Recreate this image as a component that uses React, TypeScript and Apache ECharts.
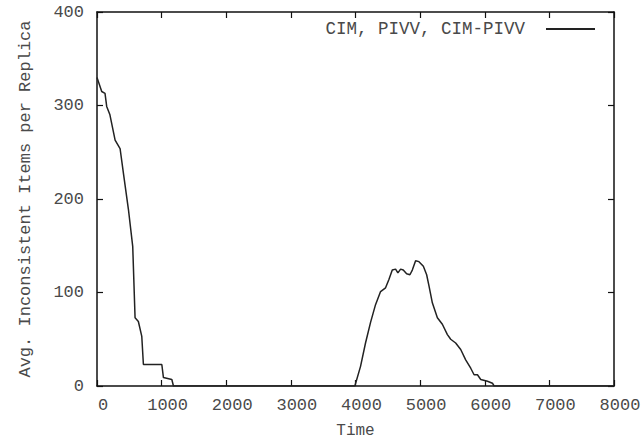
import React, { useEffect, useRef } from "react";
import * as echarts from "echarts";

const seriesName = "CIM, PIVV, CIM-PIVV";
const times = [
  0, 73, 124, 150, 200, 280, 357, 408, 486, 553, 589, 640, 693, 718, 1003, 1028, 1158, 1183, 3990,
  4078, 4155, 4233, 4310, 4388, 4465, 4517, 4569, 4620, 4656, 4698, 4739, 4791, 4842, 4879, 4930,
  4982, 5050, 5101, 5137, 5189, 5267, 5344, 5422, 5473, 5550, 5628, 5705, 5783, 5835, 5887, 5938,
  6042, 6119, 6145, 8000,
];
const values = [
  330, 315, 313, 299, 290, 263, 254, 228, 189, 149, 73, 69, 53, 23, 23, 9, 7, 0, 0,
  21, 46, 68, 87, 101, 105, 114, 124, 125, 121, 125, 124, 120, 119, 124, 134,
  133, 128, 119, 107, 89, 73, 66, 55, 50, 46, 39, 28, 19, 12, 12, 7,
  5, 3, 0, 0,
];
const xTicks = [0, 1000, 2000, 3000, 4000, 5000, 6000, 7000, 8000];
const yTicks = [0, 100, 200, 300, 400];

const FONT = "Liberation Mono";
const TXT = "#4a4a4a";

export default function App() {
  const ref = useRef<HTMLDivElement>(null);
  useEffect(() => {
    if (!ref.current) return;
    const chart = echarts.init(ref.current, undefined, { renderer: "svg" });
    const data = times.map((t, i) => [t, values[i]]);
    const axisLine = { show: true, onZero: false, lineStyle: { color: "#111", width: 1.5 } };
    const tick = { show: true, inside: true, length: 6, lineStyle: { color: "#111", width: 1.2 } };
    chart.setOption({
      animation: false,
      backgroundColor: "#fff",
      textStyle: { fontFamily: FONT },
      grid: { left: 97, right: 30, top: 12, bottom: 54, containLabel: false, outerBoundsMode: "none" },
      legend: {
        data: [{ name: seriesName, icon: "rect" }],
        right: 44,
        top: 15,
        align: "right",
        itemWidth: 49,
        itemHeight: 2,
        itemGap: 0,
        textStyle: { fontFamily: FONT, fontSize: 17.5, color: TXT, padding: [0, 16, 0, 0] },
      },
      xAxis: [
        {
          type: "value",
          min: xTicks[0],
          max: xTicks[xTicks.length - 1],
          interval: 1000,
          name: "Time",
          nameLocation: "middle",
          nameGap: 38,
          nameTextStyle: { fontFamily: FONT, fontSize: 16, lineHeight: 14, color: TXT },
          axisLine,
          axisTick: tick,
          splitLine: { show: false },
          axisLabel: {
            fontFamily: FONT,
            fontSize: 17,
            color: TXT,
            margin: 11,
            padding: [0, 0, 0, 12],
            formatter: (v: number) => String(v),
          },
        },
        {
          type: "value",
          position: "top",
          min: xTicks[0],
          max: xTicks[xTicks.length - 1],
          interval: 1000,
          axisLine,
          axisTick: tick,
          splitLine: { show: false },
          axisLabel: { show: false },
        },
      ],
      yAxis: [
        {
          type: "value",
          min: yTicks[0],
          max: yTicks[yTicks.length - 1],
          interval: 100,
          name: "Avg. Inconsistent Items per Replica",
          nameLocation: "middle",
          nameGap: 63,
          nameTextStyle: { fontFamily: FONT, fontSize: 17, color: TXT },
          axisLine,
          axisTick: tick,
          splitLine: { show: false },
          axisLabel: { fontFamily: FONT, fontSize: 17, color: TXT, margin: 13, formatter: (v: number) => String(v) },
        },
        {
          type: "value",
          position: "right",
          min: yTicks[0],
          max: yTicks[yTicks.length - 1],
          interval: 100,
          axisLine,
          axisTick: tick,
          splitLine: { show: false },
          axisLabel: { show: false },
        },
      ],
      series: [
        {
          name: seriesName,
          type: "line",
          data,
          showSymbol: false,
          symbol: "none",
          lineStyle: { color: "#222", width: 1.5 },
          itemStyle: { color: "#222" },
        },
      ],
    });
    return () => chart.dispose();
  }, []);
  return <div ref={ref} style={{ width: 644, height: 440, position: "fixed", left: 0, top: 0 }} />;
}
